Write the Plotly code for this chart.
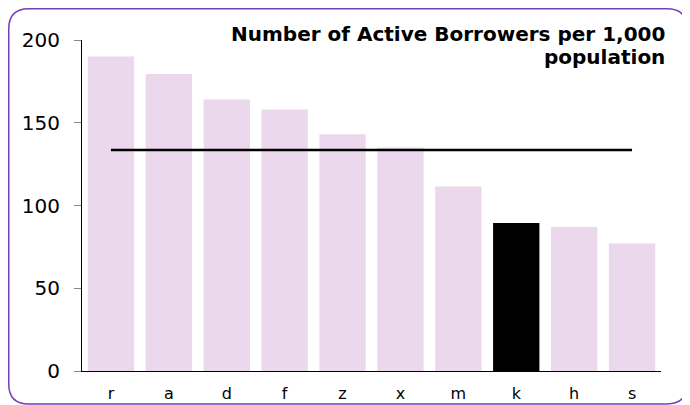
import plotly.graph_objects as go

# valeurs
categories = ["r", "a", "d", "f", "z", "x", "m", "k", "h", "s"]
borrowers = [190, 179.5, 164, 158, 143, 135, 111.5, 89.5, 87, 77]
highlight = "k"
average = 133.5
y_ticks = [0, 50, 100, 150, 200]
title_lines = ["Number of Active Borrowers per 1,000", "population"]

_PINK = "#EBD8EC"
_BORDER = "#7B3DB5"

# la page garde la marge de 8 px du <body> : la figure est décalée d'autant
W, H = 682, 397
L, R, T, B = 74, 29, 32, 34


def _px(x, y):
    # pixel (dans la figure) -> coordonnées "paper"
    return (x - L) / (W - L - R), (H - B - y) / (H - T - B)


def _rounded_rect(x0, y0, x1, y1, r):
    pts = [
        ("M", [(x0 + r, y0)]), ("L", [(x1 - r, y0)]), ("Q", [(x1, y0), (x1, y0 + r)]),
        ("L", [(x1, y1 - r)]), ("Q", [(x1, y1), (x1 - r, y1)]), ("L", [(x0 + r, y1)]),
        ("Q", [(x0, y1), (x0, y1 - r)]), ("L", [(x0, y0 + r)]), ("Q", [(x0, y0), (x0 + r, y0)]),
    ]
    out = []
    for cmd, coords in pts:
        out.append(cmd + " ".join("%.5f,%.5f" % _px(*c) for c in coords))
    return " ".join(out) + " Z"


colors = ["#000000" if c == highlight else _PINK for c in categories]

fig = go.Figure()
fig.add_trace(go.Bar(
    x=categories, y=borrowers, marker=dict(color=colors, line=dict(width=0)),
    hoverinfo="x+y",
))
fig.add_trace(go.Scatter(
    x=[categories[0], categories[-1]], y=[average, average], mode="lines",
    line=dict(color="#000000", width=2.5), hoverinfo="skip",
))

# titre en deux annotations pour un interligne plus serré
title_annots = [
    dict(
        text=f"<b>{line}</b>", xref="paper", yref="paper",
        x=_px(658, 0)[0], y=_px(0, 13 + 23 * i)[1],
        xanchor="right", yanchor="top", showarrow=False,
        font=dict(size=20, family="DejaVu Sans"), borderpad=0,
    )
    for i, line in enumerate(title_lines)
]

fig.update_layout(
    width=W, height=H,
    margin=dict(l=L, r=R, t=T, b=B),
    plot_bgcolor="white", paper_bgcolor="white",
    showlegend=False, bargap=0.2,
    font=dict(family="DejaVu Sans", color="#000000"),
    shapes=[dict(
        type="path", xref="paper", yref="paper",
        path=_rounded_rect(0.75, 0.75, 679, 396, 20),
        line=dict(color=_BORDER, width=1.5), layer="above",
    )],
    annotations=title_annots,
)
fig.update_xaxes(
    showline=True, linecolor="#000000", linewidth=1, ticks="",
    tickfont=dict(size=16), showgrid=False, automargin=False,
    ticklabelstandoff=8,
)
fig.update_yaxes(
    range=[0, 200], tickvals=y_ticks, showline=True, linecolor="#000000", linewidth=1,
    ticks="outside", ticklen=7, tickcolor="#888888", tickfont=dict(size=20),
    showgrid=False, zeroline=False, ticklabelstandoff=10, automargin=False,
)

fig.write_html("out.html")
